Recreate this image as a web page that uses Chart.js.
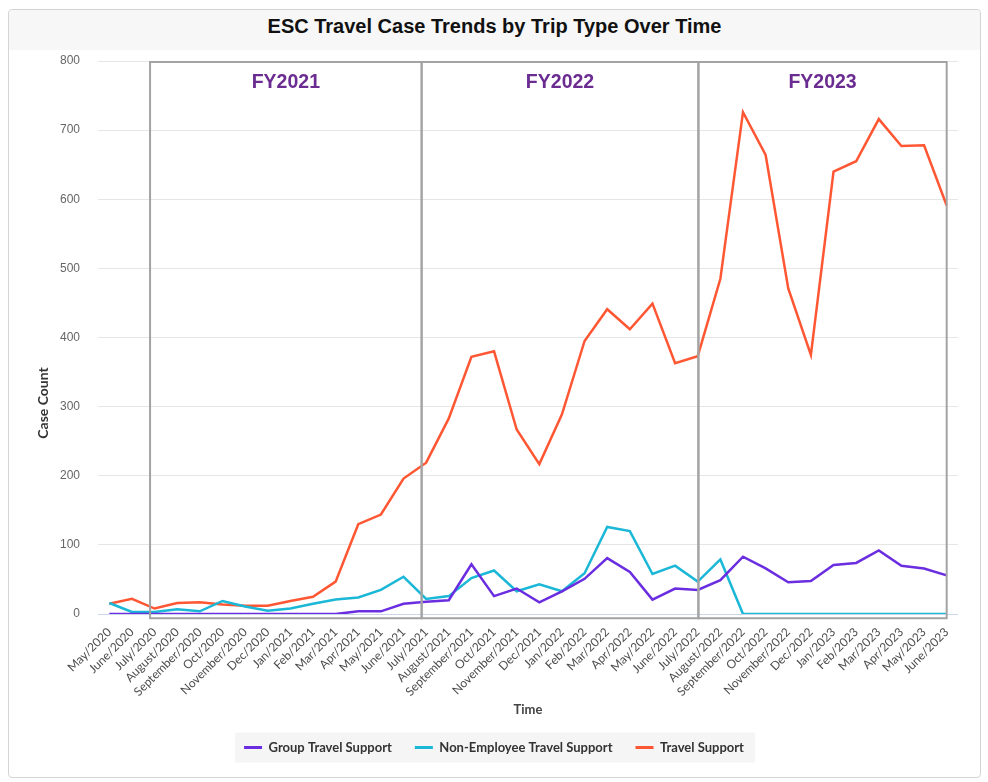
<!DOCTYPE html>
<html>
<head>
<meta charset="utf-8">
<script src="https://cdn.jsdelivr.net/npm/chart.js@4.4.1/dist/chart.umd.min.js"></script>
<style>
  html, body { margin: 0; padding: 0; background: #ffffff; }
  body { width: 988px; height: 782px; position: relative; overflow: hidden; }
  #card { position: absolute; left: 8px; top: 9px; width: 971px; height: 767px;
          border: 1px solid #d4d4d4; border-radius: 4px; background: #fff; box-sizing: content-box; }
  #titlebar { position: absolute; left: 0; top: 0; width: 100%; height: 40px; background: #f7f7f7;
              border-radius: 4px 4px 0 0; }
  #title { position: absolute; left: 0; width: 100%; top: 5px; text-align: center;
           font: bold 20px "Liberation Sans", Arial, sans-serif; color: #111; margin: 0; }
  #wrap { position: absolute; left: 0; top: 0; width: 988px; height: 782px; }
</style>
</head>
<body>
<div id="card"><div id="titlebar"><h1 id="title">ESC Travel Case Trends by Trip Type Over Time</h1></div></div>
<div id="wrap"><canvas id="c" width="988" height="782"></canvas></div>
<script>
const months = ["May/2020","June/2020","July/2020","August/2020","September/2020","Oct/2020","November/2020","Dec/2020",
  "Jan/2021","Feb/2021","Mar/2021","Apr/2021","May/2021","June/2021","July/2021","August/2021","September/2021","Oct/2021",
  "November/2021","Dec/2021","Jan/2022","Feb/2022","Mar/2022","Apr/2022","May/2022","June/2022","July/2022","August/2022",
  "September/2022","Oct/2022","November/2022","Dec/2022","Jan/2023","Feb/2023","Mar/2023","Apr/2023","May/2023","June/2023"];

const groupTravel = [0,0,0,0,0,0,0,0,0,0,0,4,4,15,18,20,72,26,37,17,33,51,81,61,21,37,35,49,83,66,46,48,71,74,92,70,66,56];
const nonEmployeeTravel = [16,3,3,7,4,19,11,5,8,15,21,24,35,54,22,26,52,63,33,43,33,59,126,120,58,70,47,79,0,0,0,0,0,0,0,0,0,0];
const travelSupport = [15,22,8,16,17,14,12,12,19,25,47,130,144,196,219,283,372,380,267,217,289,395,441,412,449,363,373,485,726,664,471,375,640,655,716,677,678,591];

const yTicks = [0,100,200,300,400,500,600,700,800];

const fyLabels = ["FY2021","FY2022","FY2023"];
const fyStart = [1.8, 13.8, 26.03];
const fyEnd = [13.8, 26.03, 37];
const fyValueTop = 800;
const fyValueBottom = -6;

const fyPlugin = {
  id: 'fyBoxes',
  afterDatasetsDraw(chart) {
    const {ctx, scales: {x, y}} = chart;
    ctx.save();
    ctx.strokeStyle = '#a3a3a3';
    ctx.lineWidth = 2;
    const top = y.getPixelForValue(fyValueTop) + 1;
    const bottom = y.getPixelForValue(fyValueBottom);
    for (let i = 0; i < fyLabels.length; i++) {
      const l = x.getPixelForValue(fyStart[i]);
      const r = x.getPixelForValue(fyEnd[i]);
      ctx.strokeRect(l, top, r - l, bottom - top);
      ctx.fillStyle = '#6a2c91';
      ctx.font = 'bold 19.5px "Liberation Sans", Arial, sans-serif';
      ctx.textAlign = 'center';
      ctx.textBaseline = 'middle';
      ctx.fillText(fyLabels[i], (l + r) / 2, top + 21);
    }
    ctx.restore();
  }
};

const yTitlePlugin = {
  id: 'yTitle',
  afterDraw(chart) {
    const {ctx, chartArea} = chart;
    ctx.save();
    ctx.translate(43, chartArea.top + 342);
    ctx.rotate(-Math.PI / 2);
    ctx.font = 'bold 14px Lato, sans-serif';
    ctx.fillStyle = '#333';
    ctx.textAlign = 'center';
    ctx.textBaseline = 'middle';
    ctx.fillText('Case Count', 0, 0);
    ctx.restore();
  }
};

const legendBgPlugin = {
  id: 'legendBg',
  beforeDraw(chart) {
    const lg = chart.legend;
    if (!lg || !lg.legendHitBoxes || !lg.legendHitBoxes.length) return;
    const hb = lg.legendHitBoxes;
    const first = hb[0], last = hb[hb.length - 1];
    const {ctx} = chart;
    ctx.save();
    ctx.fillStyle = '#f5f5f5';
    const l = first.left - 9, r = last.left + last.width + 11;
    const cy = first.top + first.height / 2;
    ctx.fillRect(l, cy - 15, r - l, 30);
    ctx.restore();
  }
};

const colors = ['#6a2ddf', '#1bb7d6', '#ff5733'];

new Chart(document.getElementById('c'), {
  type: 'line',
  data: {
    labels: months,
    datasets: [
      { label: 'Group Travel Support', data: groupTravel, borderColor: colors[0], backgroundColor: colors[0] },
      { label: 'Non-Employee Travel Support', data: nonEmployeeTravel, borderColor: colors[1], backgroundColor: colors[1] },
      { label: 'Travel Support', data: travelSupport, borderColor: colors[2], backgroundColor: colors[2] }
    ]
  },
  options: {
    responsive: false,
    animation: false,
    devicePixelRatio: 1,
    elements: {
      line: { borderWidth: 2.5, tension: 0 },
      point: { radius: 0, hoverRadius: 0 }
    },
    layout: { padding: { left: 30, right: 30, top: 61, bottom: 18 } },
    plugins: {
      title: { display: false },
      tooltip: { enabled: false },
      legend: {
        position: 'bottom',
        labels: {
          boxWidth: 18, boxHeight: 3, padding: 23,
          font: { family: 'Lato', size: 13, weight: 'bold' },
          color: '#333',
          generateLabels(chart) {
            return Chart.defaults.plugins.legend.labels.generateLabels(chart).map(it => Object.assign(it, { lineWidth: 0 }));
          }
        }
      }
    },
    scales: {
      x: {
        offset: true,
        grid: { display: false },
        border: { display: false },
        ticks: {
          autoSkip: false, maxRotation: 45, minRotation: 45,
          font: { family: 'Lato', size: 12 }, color: '#4d4d4d', padding: 3
        },
        title: {
          display: true, text: 'Time',
          font: { family: 'Lato', size: 13, weight: 'bold', lineHeight: 1 },
          color: '#444', padding: { top: 1, bottom: 2 }
        }
      },
      y: {
        min: 0, max: 800,
        afterBuildTicks(scale) { scale.ticks = yTicks.map(v => ({ value: v })); },
        afterFit(scale) { scale.width = 68; },
        grid: {
          drawTicks: false,
          color: ctx => (ctx.tick && ctx.tick.value === 0) ? '#ccd6eb' : '#e6e6e6',
          lineWidth: 1
        },
        border: { display: false },
        ticks: {
          font: { family: '"Liberation Sans", Arial', size: 12 }, color: '#666', padding: 18
        }
      }
    }
  },
  plugins: [legendBgPlugin, fyPlugin, yTitlePlugin]
});
</script>
</body>
</html>
